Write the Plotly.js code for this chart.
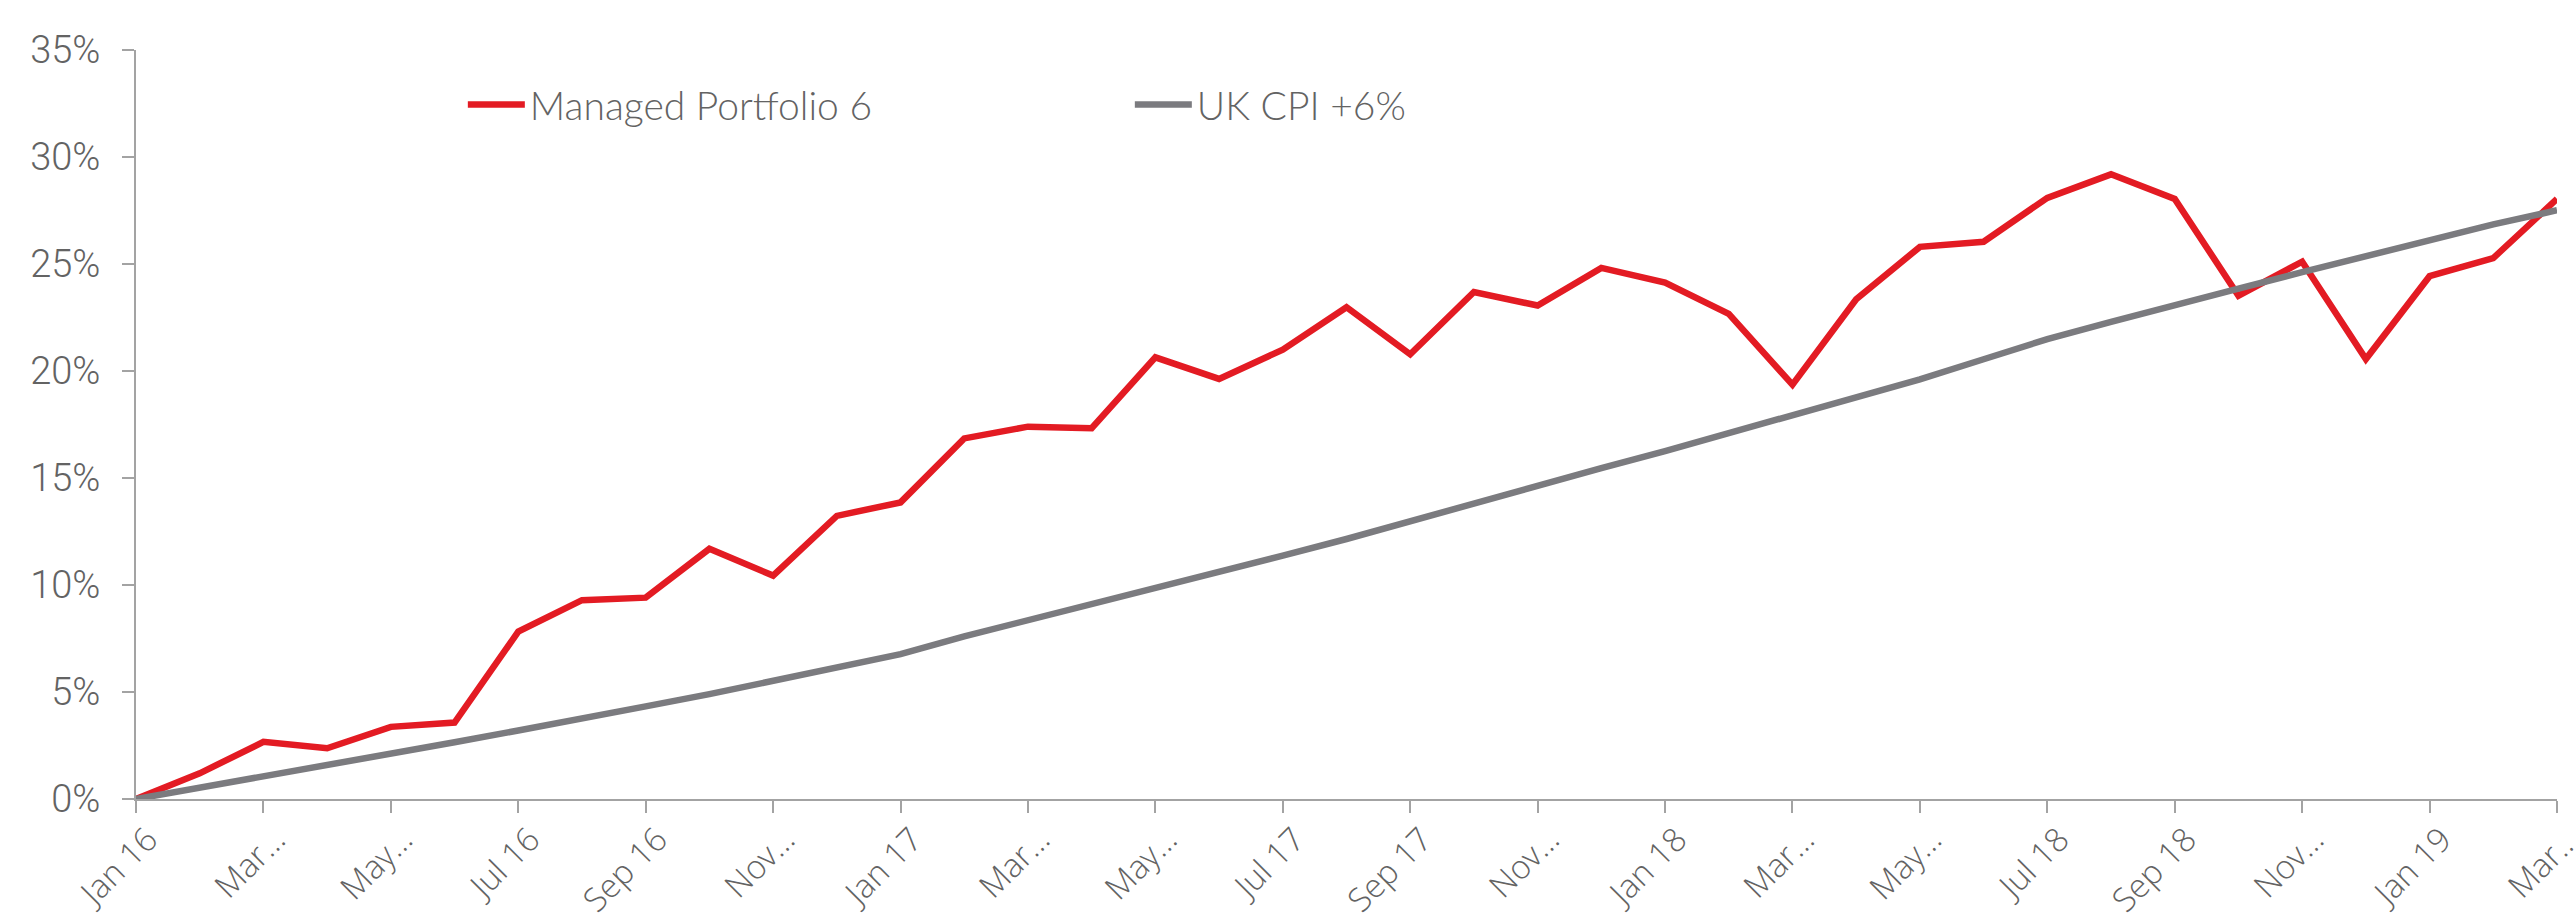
<!DOCTYPE html>
<html>
<head>
<meta charset="utf-8">
<script src="https://cdn.plot.ly/plotly-3.0.1.min.js"></script>
<style>
  html, body { margin: 0; padding: 0; background: #ffffff; }
  #chart { width: 2575px; height: 921px; }
</style>
</head>
<body>
<div id="chart"></div>
<script>
// Months (categories)
const months = [
  "Jan 16","Feb 16","Mar 16","Apr 16","May 16","Jun 16","Jul 16","Aug 16","Sep 16","Oct 16","Nov 16","Dec 16",
  "Jan 17","Feb 17","Mar 17","Apr 17","May 17","Jun 17","Jul 17","Aug 17","Sep 17","Oct 17","Nov 17","Dec 17",
  "Jan 18","Feb 18","Mar 18","Apr 18","May 18","Jun 18","Jul 18","Aug 18","Sep 18","Oct 18","Nov 18","Dec 18",
  "Jan 19","Feb 19","Mar 19"
];

// Managed Portfolio 6 cumulative return (%)
const managedPortfolio6 = [
  0, 1.2, 2.67, 2.37, 3.37, 3.57, 7.82, 9.29, 9.41, 11.69, 10.44, 13.23,
  13.86, 16.85, 17.4, 17.33, 20.64, 19.63, 21.0, 22.98, 20.78, 23.69, 23.06, 24.82,
  24.13, 22.67, 19.36, 23.35, 25.8, 26.04, 28.09, 29.19, 28.04, 23.52, 25.11, 20.56,
  24.43, 25.28, 28.04
];

// UK CPI +6% cumulative (%)
const ukCpiPlus6 = [
  0, 0.52, 1.05, 1.57, 2.1, 2.65, 3.2, 3.74, 4.33, 4.9, 5.5, 6.12,
  6.77, 7.6, 8.34, 9.1, 9.85, 10.6, 11.37, 12.15, 12.98, 13.82, 14.69, 15.46,
  16.26, 17.1, 17.9, 18.75, 19.61, 20.55, 21.49, 22.3, 23.1, 23.85, 24.62, 25.38,
  26.14, 26.85, 27.51
];

// Tick labels (every second month)
const tickMonths = months.filter((m, i) => i % 2 === 0);
const tickLabels = [
  "Jan 16","Mar\u2026","May\u2026","Jul 16","Sep 16","Nov\u2026",
  "Jan 17","Mar\u2026","May\u2026","Jul 17","Sep 17","Nov\u2026",
  "Jan 18","Mar\u2026","May\u2026","Jul 18","Sep 18","Nov\u2026",
  "Jan 19","Mar\u2026"
];

const yTicks = [0, 5, 10, 15, 20, 25, 30, 35];
const yTickLabels = ["0%","5%","10%","15%","20%","25%","30%","35%"];

const textColor = "#636363";
const axisColor = "#a3a3a3";

const traces = [
  {
    type: "scatter", mode: "lines", name: "Managed Portfolio 6",
    x: months, y: managedPortfolio6,
    line: { color: "#e31b23", width: 6.5 },
    hoverinfo: "skip"
  },
  {
    type: "scatter", mode: "lines", name: "UK CPI +6%",
    x: months, y: ukCpiPlus6,
    line: { color: "#7b7b7f", width: 6.5 },
    hoverinfo: "skip"
  }
];

const layout = {
  width: 2575, height: 921,
  margin: { l: 136, r: 18, t: 50, b: 122 },
  paper_bgcolor: "#ffffff", plot_bgcolor: "#ffffff",
  showlegend: true,
  legend: {
    orientation: "h",
    x: 0.135, xanchor: "left",
    y: 0.927, yanchor: "middle",
    entrywidth: 595, entrywidthmode: "pixels",
    font: { family: "Lato, 'Open Sans', sans-serif", size: 39, color: textColor, weight: 300 },
    bgcolor: "rgba(0,0,0,0)",
    itemwidth: 57
  },
  xaxis: {
    type: "category",
    range: [0, months.length - 1],
    tickmode: "array",
    tickvals: tickMonths,
    ticktext: tickLabels,
    tickangle: -45,
    ticks: "outside", ticklen: 12, tickcolor: axisColor, tickwidth: 2,
    showline: true, linecolor: axisColor, linewidth: 2,
    showgrid: false, zeroline: false,
    ticklabelstandoff: -6,
    ticklabelshift: 12,
    tickfont: { family: "'Open Sans', sans-serif", size: 33, color: textColor, weight: 300 },
    fixedrange: true
  },
  yaxis: {
    range: [0, 35],
    tickmode: "array",
    tickvals: yTicks,
    ticktext: yTickLabels,
    ticks: "outside", ticklen: 12, tickcolor: axisColor, tickwidth: 2,
    showline: true, linecolor: axisColor, linewidth: 2,
    showgrid: false, zeroline: false,
    ticklabelstandoff: 14,
    tickfont: { family: "Roboto, sans-serif", size: 38, color: textColor, weight: 300 },
    fixedrange: true
  }
};

Plotly.newPlot("chart", traces, layout, { staticPlot: true, displayModeBar: false });
</script>
</body>
</html>
